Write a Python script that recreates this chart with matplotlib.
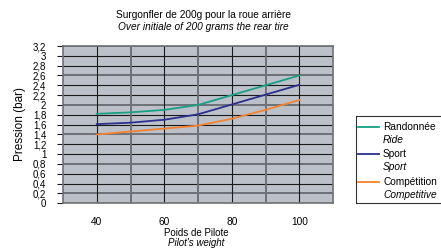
import matplotlib
matplotlib.use("Agg")
import matplotlib.pyplot as plt
from matplotlib.lines import Line2D
from matplotlib.patches import Rectangle

plt.rcParams['font.family'] = ['Liberation Sans', 'DejaVu Sans']

# data
poids = [40, 50, 60, 70, 80, 90, 100]
randonnee = [1.82, 1.85, 1.90, 2.00, 2.20, 2.40, 2.60]
sport = [1.61, 1.64, 1.70, 1.81, 2.01, 2.21, 2.41]
competition = [1.40, 1.46, 1.52, 1.58, 1.72, 1.90, 2.10]

series_fr = ['Randonnée', 'Sport', 'Compétition']
series_en = ['Ride', 'Sport', 'Competitive']
colors = ['#17a084', '#2b2f8f', '#f5822e']

yticks = [i * 0.2 for i in range(17)]
ylabels = ['0', '0,2', '0,4', '0,6', '0,8', '1', '1,2', '1,4', '1,6', '1,8',
           '2', '2,2', '2,4', '2,6', '2,8', '3', '3,2']

fig = plt.figure(figsize=(4.41, 2.52), dpi=100)
ax = fig.add_axes([63 / 441, 1 - 203.3 / 252, 270 / 441, 157.3 / 252])
ax.set_facecolor('#bcc1c9')
ax.set_xlim(30, 110)
ax.set_ylim(0, 3.2)

# grid (alternating dark / grey as in the scan)
for i, v in enumerate(yticks):
    if i % 3 == 1:
        ax.axhline(v, color='#6d7076', lw=1.4, zorder=1)
    else:
        ax.axhline(v, color='#1a1a1a', lw=0.8, zorder=1)
for x in range(40, 101, 10):
    if x % 20 == 0:
        ax.axvline(x, color='#1a1a1a', lw=0.8, zorder=1)
    else:
        ax.axvline(x, color='#6d7076', lw=1.4, zorder=1)

for ys, c in zip([randonnee, sport, competition], colors):
    ax.plot(poids, ys, color=c, lw=1.3, zorder=3)

for s in ax.spines.values():
    s.set_color('#6d7076')
    s.set_linewidth(1.2)

ax.set_yticks(yticks)
ax.set_yticklabels(ylabels, fontsize=7)
ax.set_xticks([40, 60, 80, 100])
ax.set_xticklabels(['40', '60', '80', '100'], fontsize=7.3)
ax.tick_params(axis='y', length=4, width=0.8, color='#1a1a1a', pad=8)
ax.tick_params(axis='x', length=0, pad=10)

fig.text(20 / 441, 1 - 124 / 252, 'Pression (bar)', rotation=90,
         ha='center', va='center', fontsize=8.5)

# titles
fig.text(203 / 441, 1 - 15 / 252, 'Surgonfler de 200g pour la roue arrière',
         ha='center', va='center', fontsize=7.3)
fig.text(203 / 441, 1 - 27.5 / 252, 'Over initiale of 200 grams the rear tire',
         ha='center', va='center', fontsize=7.3, style='italic')

fig.text(196 / 441, 1 - 233 / 252, 'Poids de Pilote',
         ha='center', va='center', fontsize=7)
fig.text(196 / 441, 1 - 243 / 252, "Pilot's weight",
         ha='center', va='center', fontsize=7, style='italic')

# legend box, drawn by hand, open on the right (runs off the figure edge)
bx0, bx1 = 355.5 / 441, 1.0
by0, by1 = 1 - 203.3 / 252, 1 - 116.3 / 252
fig.patches.append(Rectangle((bx0, by0), bx1 - bx0, by1 - by0,
                             transform=fig.transFigure, facecolor='white',
                             edgecolor='none'))
fig.lines.append(Line2D([bx1, bx0, bx0, bx1], [by1, by1, by0, by0],
                        transform=fig.transFigure, color='#333333', lw=0.8))
y0 = 127
for fr, en, c in zip(series_fr, series_en, colors):
    fig.lines.append(Line2D([358 / 441, 379 / 441],
                            [1 - y0 / 252, 1 - y0 / 252],
                            transform=fig.transFigure, color=c, lw=1.3))
    fig.text(383 / 441, 1 - y0 / 252, fr, ha='left', va='center', fontsize=7.3)
    fig.text(383 / 441, 1 - (y0 + 13) / 252, en, ha='left', va='center',
             fontsize=7.3, style='italic')
    y0 += 27.3

fig.savefig('out.png', dpi=100)
